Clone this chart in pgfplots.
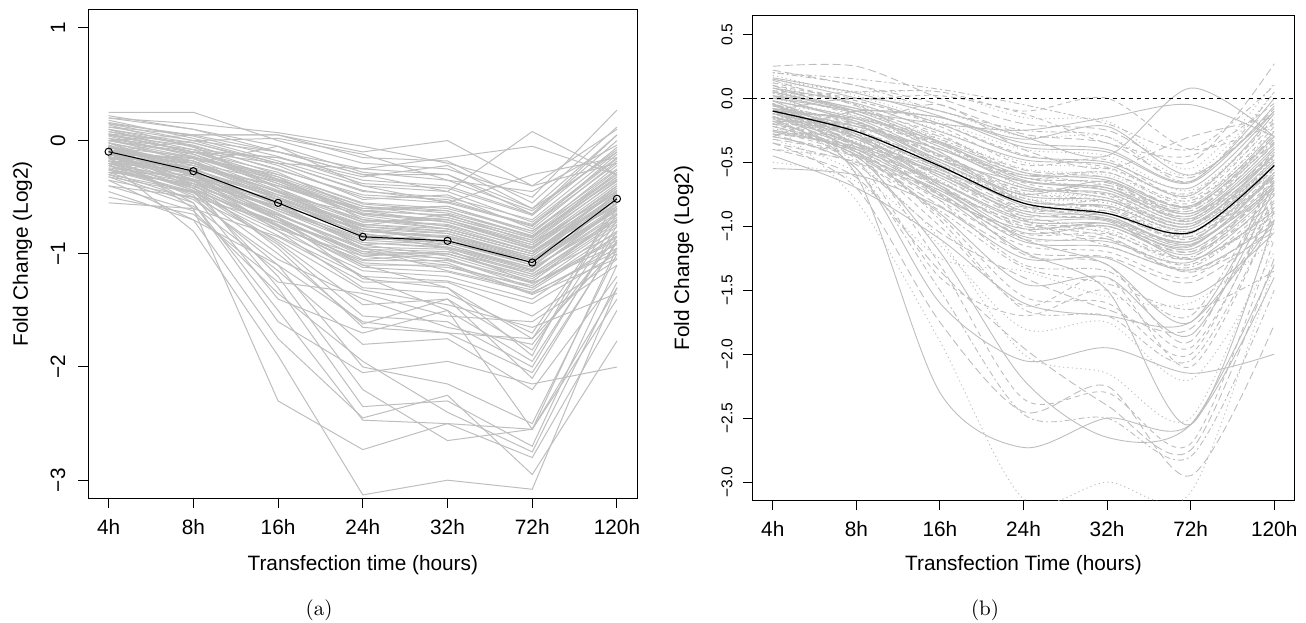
\documentclass[border=0pt]{standalone}
\usepackage{pgfplots}
\pgfplotsset{compat=1.18}
\usepackage{fontspec}
\newfontfamily\hv{Liberation Sans}
\definecolor{rgray}{RGB}{190,190,190}

% one gene profile at 4h, 8h, 16h, 24h, 32h, 72h, 120h
\newcommand\G[7]{\addplot+[] coordinates {(0,#1)(1,#2)(2,#3)(3,#4)(4,#5)(5,#6)(6,#7)};}
\newcommand\genes{%
\G{0.05}{-0.10}{-0.35}{-0.60}{-0.62}{-0.85}{-0.30}
\G{-0.10}{-0.25}{-0.50}{-0.80}{-0.85}{-1.05}{-0.55}
\G{-0.15}{-0.30}{-0.60}{-0.90}{-0.95}{-1.15}{-0.60}
\G{0.10}{-0.05}{-0.25}{-0.50}{-0.55}{-0.75}{-0.20}
\G{-0.20}{-0.35}{-0.70}{-1.00}{-1.00}{-1.20}{-0.70}
\G{-0.05}{-0.20}{-0.45}{-0.70}{-0.75}{-0.95}{-0.40}
\G{0.15}{0.00}{-0.20}{-0.45}{-0.50}{-0.70}{-0.10}
\G{-0.25}{-0.40}{-0.75}{-1.10}{-1.10}{-1.30}{-0.80}
\G{-0.08}{-0.22}{-0.40}{-0.65}{-0.70}{-0.90}{-0.45}
\G{0.00}{-0.15}{-0.30}{-0.55}{-0.60}{-0.80}{-0.25}
\G{-0.12}{-0.28}{-0.55}{-0.85}{-0.80}{-1.00}{-0.50}
\G{-0.18}{-0.32}{-0.65}{-0.95}{-1.05}{-1.25}{-0.65}
\G{0.08}{-0.08}{-0.15}{-0.35}{-0.40}{-0.65}{0.00}
\G{-0.30}{-0.45}{-0.80}{-1.15}{-1.20}{-1.40}{-0.90}
\G{-0.02}{-0.18}{-0.50}{-0.75}{-0.65}{-0.90}{-0.35}
\G{0.12}{0.05}{-0.10}{-0.30}{-0.30}{-0.60}{0.05}
\G{-0.10}{-0.30}{-0.62}{-0.92}{-0.88}{-1.10}{-0.62}
\G{-0.22}{-0.38}{-0.58}{-0.78}{-0.90}{-1.08}{-0.58}
\G{0.02}{-0.12}{-0.38}{-0.68}{-0.78}{-0.98}{-0.48}
\G{-0.15}{-0.20}{-0.45}{-0.82}{-0.95}{-1.18}{-0.70}
\G{-0.05}{-0.28}{-0.68}{-1.05}{-1.00}{-1.22}{-0.72}
\G{0.18}{0.02}{-0.18}{-0.40}{-0.45}{-0.72}{-0.15}
\G{-0.35}{-0.50}{-0.72}{-0.98}{-1.08}{-1.35}{-0.95}
\G{-0.12}{-0.15}{-0.32}{-0.58}{-0.68}{-0.88}{-0.32}
\G{-0.08}{-0.35}{-0.58}{-0.88}{-0.92}{-1.12}{-0.52}
\G{0.05}{-0.05}{-0.42}{-0.72}{-0.70}{-0.92}{-0.42}
\G{-0.18}{-0.42}{-0.78}{-1.02}{-0.98}{-1.18}{-0.68}
\G{-0.02}{-0.25}{-0.52}{-0.76}{-0.82}{-1.02}{-0.48}
\G{0.22}{0.10}{-0.05}{-0.28}{-0.35}{-0.62}{-0.08}
\G{-0.28}{-0.30}{-0.55}{-0.95}{-1.15}{-1.32}{-0.85}
\G{-0.10}{-0.18}{-0.48}{-0.65}{-0.72}{-0.92}{-0.38}
\G{0.00}{-0.10}{-0.28}{-0.62}{-0.58}{-0.82}{-0.22}
\G{-0.14}{-0.36}{-0.66}{-0.96}{-0.98}{-1.16}{-0.58}
\G{-0.06}{-0.22}{-0.45}{-0.78}{-0.86}{-1.06}{-0.55}
\G{0.10}{-0.12}{-0.36}{-0.62}{-0.66}{-0.86}{-0.28}
\G{-0.20}{-0.26}{-0.62}{-0.88}{-0.84}{-1.04}{-0.62}
\G{-0.04}{-0.32}{-0.56}{-0.82}{-0.92}{-1.14}{-0.66}
\G{0.06}{-0.02}{-0.22}{-0.52}{-0.48}{-0.78}{-0.18}
\G{-0.16}{-0.44}{-0.72}{-1.08}{-1.12}{-1.28}{-0.76}
\G{-0.24}{-0.34}{-0.52}{-0.74}{-0.78}{-0.98}{-0.52}
\G{0.14}{-0.06}{-0.30}{-0.56}{-0.62}{-0.84}{-0.34}
\G{-0.12}{-0.24}{-0.58}{-0.92}{-1.02}{-1.24}{-0.74}
\G{-0.02}{-0.16}{-0.44}{-0.70}{-0.74}{-0.96}{-0.44}
\G{-0.08}{-0.30}{-0.60}{-0.86}{-0.90}{-1.10}{-0.60}
\G{0.02}{-0.08}{-0.34}{-0.64}{-0.70}{-0.94}{-0.40}
\G{-0.18}{-0.28}{-0.50}{-0.84}{-0.88}{-1.06}{-0.46}
\G{-0.10}{-0.38}{-0.70}{-0.98}{-1.00}{-1.20}{-0.82}
\G{0.04}{-0.14}{-0.40}{-0.60}{-0.58}{-0.80}{-0.30}
\G{-0.26}{-0.40}{-0.66}{-0.94}{-0.96}{-1.26}{-0.88}
\G{-0.06}{-0.20}{-0.36}{-0.66}{-0.76}{-0.98}{-0.50}
\G{0.08}{-0.04}{-0.26}{-0.48}{-0.52}{-0.76}{-0.12}
\G{-0.14}{-0.30}{-0.54}{-0.78}{-0.82}{-1.04}{-0.56}
\G{-0.32}{-0.46}{-0.84}{-1.20}{-1.24}{-1.44}{-1.00}
\G{-0.04}{-0.26}{-0.48}{-0.74}{-0.80}{-1.00}{-0.42}
\G{0.00}{-0.12}{-0.42}{-0.80}{-0.84}{-1.02}{-0.52}
\G{-0.20}{-0.36}{-0.60}{-0.90}{-0.94}{-1.14}{-0.64}
\G{0.16}{0.04}{-0.14}{-0.38}{-0.42}{-0.66}{-0.06}
\G{-0.12}{-0.34}{-0.64}{-1.00}{-1.04}{-1.30}{-0.84}
\G{-0.08}{-0.18}{-0.46}{-0.72}{-0.68}{-0.88}{-0.36}
\G{-0.16}{-0.24}{-0.40}{-0.62}{-0.72}{-0.94}{-0.46}
\G{0.02}{-0.20}{-0.52}{-0.84}{-0.94}{-1.12}{-0.70}
\G{-0.22}{-0.42}{-0.76}{-1.06}{-1.06}{-1.26}{-0.92}
\G{-0.10}{-0.16}{-0.34}{-0.58}{-0.64}{-0.84}{-0.26}
\G{0.06}{-0.10}{-0.32}{-0.70}{-0.78}{-0.98}{-0.58}
\G{-0.28}{-0.38}{-0.68}{-1.02}{-1.10}{-1.36}{-1.04}
\G{-0.04}{-0.28}{-0.54}{-0.80}{-0.86}{-1.08}{-0.60}
\G{-0.18}{-0.22}{-0.48}{-0.76}{-0.80}{-1.00}{-0.44}
\G{0.10}{-0.02}{-0.20}{-0.44}{-0.54}{-0.74}{-0.16}
\G{-0.14}{-0.40}{-0.74}{-1.12}{-1.16}{-1.34}{-0.98}
\G{-0.06}{-0.14}{-0.38}{-0.62}{-0.66}{-0.86}{-0.32}
\G{0.25}{0.25}{0.00}{-0.20}{-0.25}{-0.50}{0.27}
\G{0.20}{0.15}{0.07}{-0.05}{-0.20}{-0.40}{0.10}
\G{-0.10}{0.00}{-0.10}{-0.30}{-0.45}{0.08}{-0.30}
\G{0.00}{0.05}{0.05}{-0.10}{0.00}{-0.40}{-0.20}
\G{0.05}{-0.10}{-0.20}{-0.25}{-0.15}{-0.05}{-0.30}
\G{0.15}{0.05}{0.05}{-0.15}{-0.18}{-0.55}{0.12}
\G{-0.10}{-0.20}{-0.05}{-0.40}{-0.55}{-0.30}{-0.15}
\G{0.20}{0.10}{-0.10}{-0.25}{-0.30}{-0.65}{0.05}
\G{-0.30}{-0.10}{-0.15}{-0.32}{-0.22}{-0.60}{-0.10}
\G{0.12}{0.00}{0.02}{-0.12}{-0.35}{-0.45}{-0.04}
\G{-0.10}{-0.60}{-2.30}{-2.73}{-2.50}{-2.55}{-1.40}
\G{-0.20}{-0.80}{-1.90}{-3.13}{-3.00}{-3.08}{-1.30}
\G{-0.35}{-0.70}{-1.75}{-2.45}{-2.25}{-2.95}{-1.77}
\G{-0.15}{-0.55}{-1.50}{-2.47}{-2.50}{-2.80}{-1.50}
\G{-0.25}{-0.45}{-1.20}{-2.20}{-2.65}{-2.55}{-1.30}
\G{-0.05}{-0.40}{-1.30}{-2.35}{-2.30}{-2.70}{-1.10}
\G{-0.30}{-0.55}{-1.60}{-2.05}{-1.95}{-2.15}{-2.00}
\G{-0.18}{-0.50}{-1.10}{-2.00}{-2.15}{-2.50}{-1.00}
\G{-0.40}{-0.62}{-1.35}{-1.95}{-2.40}{-2.75}{-1.25}
\G{-0.12}{-0.38}{-0.95}{-1.65}{-1.70}{-2.05}{-0.90}
\G{-0.45}{-0.70}{-1.10}{-1.60}{-1.70}{-1.75}{-0.95}
\G{-0.22}{-0.48}{-1.40}{-1.70}{-1.50}{-1.95}{-0.80}
\G{-0.08}{-0.42}{-0.90}{-1.45}{-1.40}{-1.85}{-0.70}
\G{-0.50}{-0.65}{-1.25}{-1.35}{-1.55}{-1.60}{-1.10}
\G{-0.28}{-0.52}{-1.05}{-1.40}{-1.65}{-1.80}{-0.85}
\G{-0.15}{-0.30}{-0.80}{-1.30}{-1.35}{-1.70}{-0.60}
\G{-0.55}{-0.60}{-0.85}{-1.25}{-1.25}{-1.55}{-1.05}
\G{-0.20}{-0.44}{-0.92}{-1.55}{-1.60}{-2.00}{-0.75}
\G{-0.05}{-0.36}{-0.76}{-1.20}{-1.50}{-2.55}{-0.95}
\G{-0.32}{-0.58}{-1.15}{-1.80}{-1.75}{-2.20}{-1.20}
\G{-0.10}{-0.28}{-0.68}{-1.22}{-1.30}{-1.90}{-0.50}
\G{-0.40}{-0.50}{-0.88}{-1.32}{-1.45}{-1.65}{-1.35}
\G{-0.02}{-0.30}{-0.70}{-1.10}{-1.30}{-1.75}{-0.65}
\G{-0.26}{-0.46}{-1.00}{-1.62}{-1.40}{-2.10}{-0.88}
}

\pgfplotsset{
  rstyle/.style={
    scale only axis, anchor=south west,
    axis line style={line width=0.5pt},
    tick style={line width=0.5pt, black},
    tick align=outside, major tick length=5pt,
    xtick pos=bottom, ytick pos=left,
    xmin=-0.24, xmax=6.24,
    xtick={0,1,2,3,4,5,6},
    xticklabels={4h,8h,16h,24h,32h,72h,120h},
    xticklabel style={font=\hv\fontsize{10.4}{12}\selectfont},
    xticklabel shift=2pt,
    yticklabel style={rotate=90, anchor=south},
    clip=true,
  },
}

\begin{document}
\begin{tikzpicture}
\path[use as bounding box] (0,0) rectangle (653pt,311pt);

% ---------------- (a) ----------------
\begin{axis}[rstyle,
  at={(44.15pt,61.85pt)}, width=274.5pt, height=244.5pt,
  ymin=-3.16, ymax=1.16,
  ytick={-3,-2,-1,0,1},
  yticklabels={−3,−2,−1,0,1},
  yticklabel style={font=\hv\fontsize{10.4}{12}\selectfont},
  yticklabel shift=3pt,
  xlabel={Transfection time (hours)},
  ylabel={Fold Change (Log2)},
  every axis x label/.style={at={(axis description cs:0.5,-0.136)}, anchor=center, font=\hv\fontsize{10.4}{12}\selectfont},
  every axis y label/.style={at={(axis description cs:-0.12,0.5)}, rotate=90, anchor=center, font=\hv\fontsize{10.4}{12}\selectfont},
  cycle list={rgray, line width=0.5pt, mark=none\\},
]
\genes
\addplot[black, line width=0.5pt, mark=o, mark size=1.8pt, mark options={line width=0.5pt}]
  coordinates {(0,-0.098)(1,-0.27)(2,-0.55)(3,-0.85)(4,-0.885)(5,-1.077)(6,-0.514)};
\end{axis}

% ---------------- (b) ----------------
\begin{axis}[rstyle,
  at={(376.35pt,61pt)}, width=270.8pt, height=242pt,
  ymin=-3.14, ymax=0.643,
  ytick={-3,-2.5,-2,-1.5,-1,-0.5,0,0.5},
  yticklabels={−3.0,−2.5,−2.0,−1.5,−1.0,−0.5,0.0,0.5},
  yticklabel style={font=\hv\fontsize{7.8}{9}\selectfont},
  yticklabel shift=1.5pt,
  xlabel={Transfection Time (hours)},
  ylabel={Fold Change (Log2)},
  every axis x label/.style={at={(axis description cs:0.5,-0.134)}, anchor=center, font=\hv\fontsize{10.4}{12}\selectfont},
  every axis y label/.style={at={(axis description cs:-0.1274,0.5)}, rotate=90, anchor=center, font=\hv\fontsize{10.4}{12}\selectfont},
  every axis plot/.append style={smooth, tension=0.5},
  cycle list={
    rgray, line width=0.45pt, mark=none, solid\\
    rgray, line width=0.45pt, mark=none, dash pattern=on 2.5pt off 2pt\\
    rgray, line width=0.45pt, mark=none, solid\\
    rgray, line width=0.45pt, mark=none, dash pattern=on 0.6pt off 1.6pt\\
    rgray, line width=0.45pt, mark=none, dash pattern=on 4pt off 2pt\\
    rgray, line width=0.45pt, mark=none, dash pattern=on 1pt off 1.5pt on 3pt off 1.5pt\\
  },
]
\genes
\addplot[black, line width=0.5pt, dash pattern=on 2pt off 2pt, sharp plot]
  coordinates {(-0.24,0)(6.24,0)};
\addplot[black, line width=0.6pt]
  coordinates {(0,-0.10)(1,-0.26)(2,-0.53)(3,-0.82)(4,-0.90)(5,-1.05)(6,-0.525)};
\end{axis}

\node[font=\fontsize{10.5}{12}\selectfont] at (159.5pt,6pt) {(a)};
\node[font=\fontsize{10.5}{12}\selectfont] at (492.5pt,6pt) {(b)};
\end{tikzpicture}
\end{document}
